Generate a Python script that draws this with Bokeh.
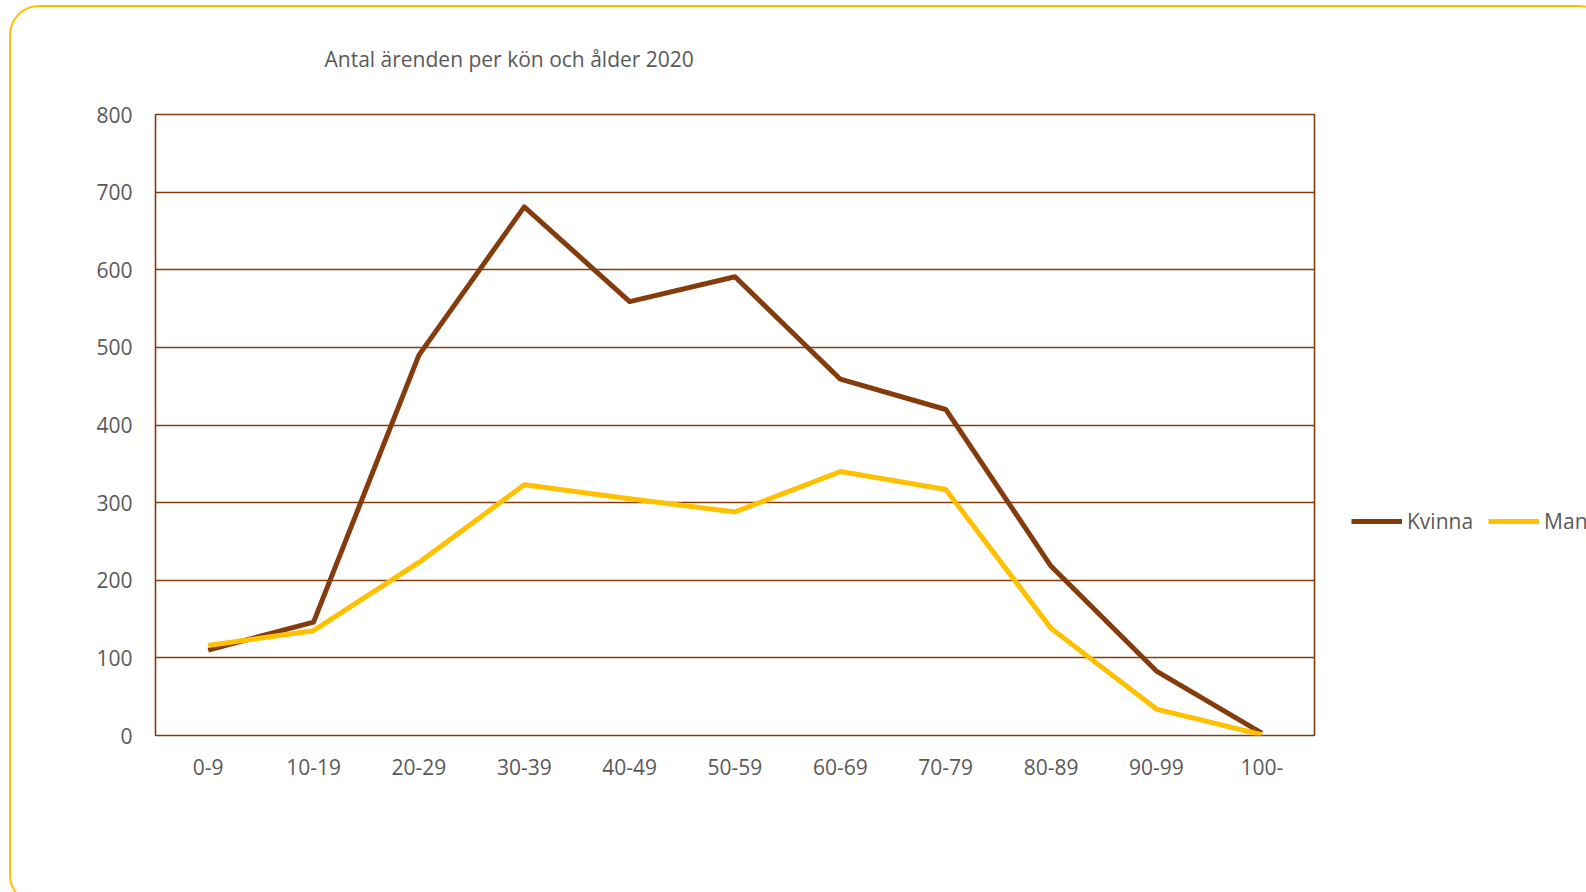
from bokeh.plotting import figure
from bokeh.models import FactorRange, Range1d, Legend, LegendItem, FixedTicker, InlineStyleSheet
from bokeh.embed import file_html
from bokeh.resources import INLINE

categories = ["0-9", "10-19", "20-29", "30-39", "40-49", "50-59", "60-69", "70-79", "80-89", "90-99", "100-"]
kvinna = [110, 146, 490, 681, 559, 591, 459, 420, 218, 83, 3]
man = [116, 135, 223, 323, 305, 288, 340, 317, 138, 34, 1]
y_ticks = [0, 100, 200, 300, 400, 500, 600, 700, 800]

BROWN = "#843C0C"
YELLOW = "#FFC000"
GRAY = "#595959"
FONT = "Open Sans"

p = figure(width=1586, height=892, frame_width=1159, frame_height=621,
           x_range=FactorRange(*categories, range_padding=0),
           y_range=Range1d(0, 800), output_backend="svg", toolbar_location=None,
           min_border_left=155, min_border_right=0, min_border_top=114, min_border_bottom=157)

p.title.text = "Antal ärenden per kön och ålder 2020"
p.title.text_font = FONT
p.title.text_font_size = "21px"
p.title.text_font_style = "normal"
p.title.text_color = GRAY
p.title.align = "left"
p.title.offset = 169
p.title.standoff = 84

r1 = p.line(categories, kvinna, line_color=BROWN, line_width=5, line_join="round")
r2 = p.line(categories, man, line_color=YELLOW, line_width=5, line_join="round")

p.outline_line_color = BROWN
p.outline_line_width = 1.6
p.xgrid.grid_line_color = None
p.ygrid.grid_line_color = BROWN
p.ygrid.grid_line_width = 1.4
p.yaxis.ticker = FixedTicker(ticks=y_ticks)

for ax in (p.xaxis[0], p.yaxis[0]):
    ax.axis_line_color = None
    ax.major_tick_line_color = None
    ax.minor_tick_line_color = None
    ax.major_label_text_font = FONT
    ax.major_label_text_font_size = "21px"
    ax.major_label_text_color = GRAY
p.xaxis.major_label_standoff = 17
p.yaxis.major_label_standoff = 17

legend = Legend(items=[LegendItem(label="Kvinna", renderers=[r1]), LegendItem(label="Man", renderers=[r2])],
                orientation="horizontal", location=(37, 200), padding=0, margin=0,
                glyph_width=51, glyph_height=20, label_standoff=5, spacing=15,
                label_text_font=FONT, label_text_font_size="21px", label_text_color=GRAY,
                border_line_alpha=0, background_fill_alpha=0)
p.add_layout(legend, "right")

p.stylesheets = [InlineStyleSheet(css="""
:host { overflow: hidden; max-width: 1586px; max-height: 892px; }
:host::after { content: ""; position: absolute; left: 9px; top: 5px; width: 1600px; height: 900px;
  border: 2px solid #FFC000; border-radius: 30px; pointer-events: none; box-sizing: border-box; }
""")]

open("out.html", "w").write(file_html(p, INLINE))
